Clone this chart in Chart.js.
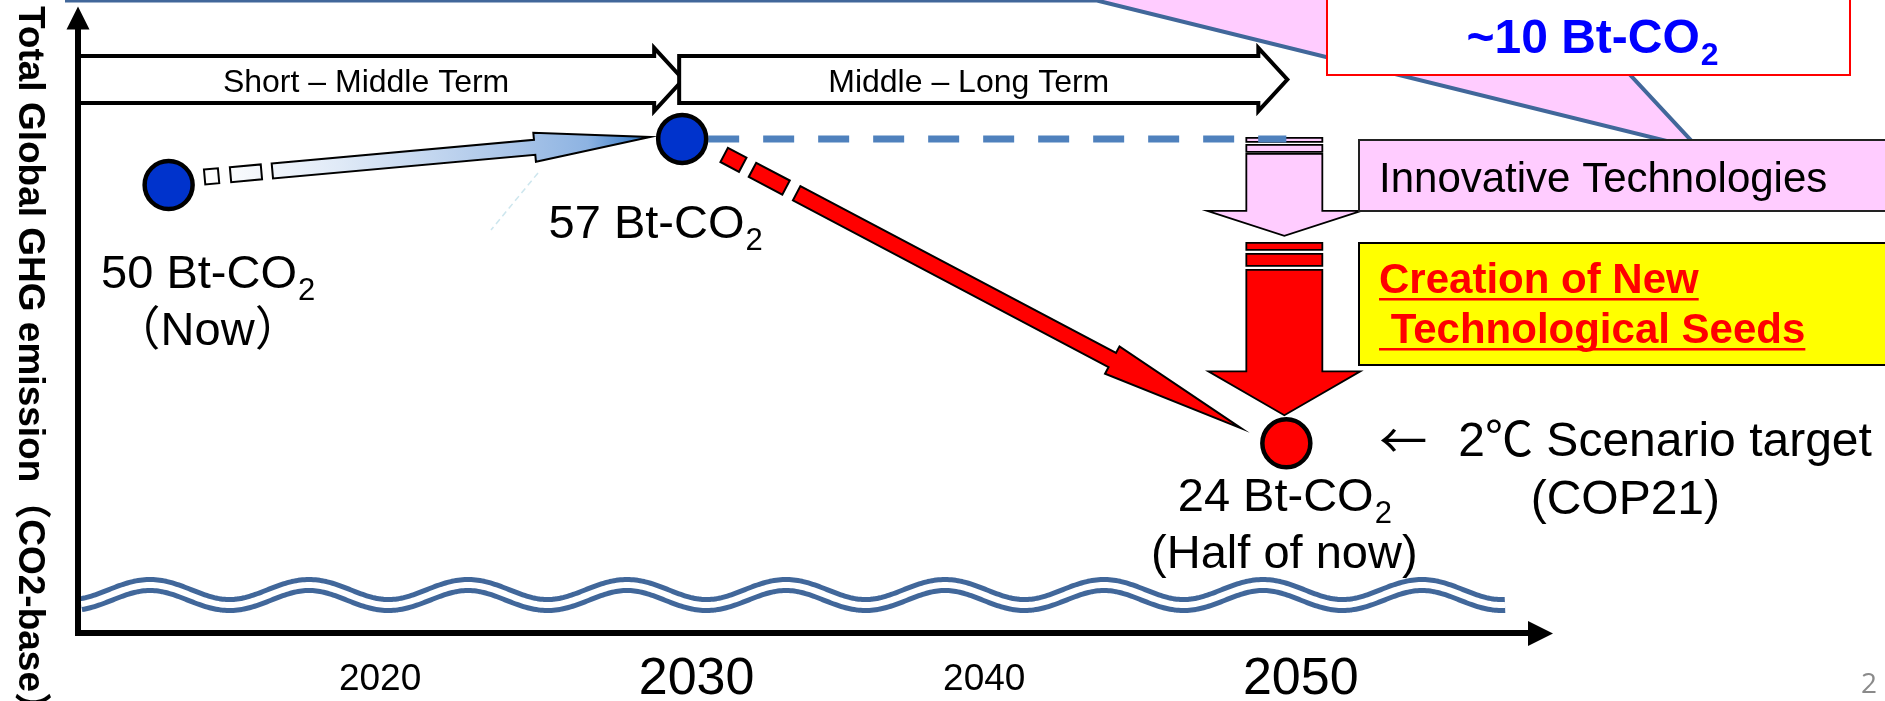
<!DOCTYPE html>
<html>
<head>
<meta charset="utf-8">
<title>Total Global GHG emission</title>
<script src="https://cdn.jsdelivr.net/npm/chart.js@4.4.1/dist/chart.umd.min.js"></script>
<style>
  html, body { margin: 0; padding: 0; background: #ffffff; overflow: hidden; }
  canvas { display: block; }
</style>
</head>
<body>
<canvas id="chart" width="1885" height="701"></canvas>
<script>
// ---- time axis ----
const tickYears = [2020, 2030, 2040, 2050];
const majorTickYears = [2030, 2050];

// ---- emission milestones (Bt-CO2) ----
const milestoneYears = [2013, 2030, 2050];
const milestoneValues = [50, 57, 24];
const milestoneNotes = ['（Now）', '', '(Half of now)'];
const milestoneFills = ['#0033CC', '#0033CC', '#FF0000'];

// ---- business-as-usual plateau after 2030 ----
const plateauYears = [2030, 2050];
const plateauValues = [57, 57];

// ---- term bands ----
const termLabels = ['Short – Middle Term', 'Middle – Long Term'];
const termStartYears = [2010, 2030];
const termEndYears = [2030, 2050];

// ---- callouts ----
const extraCut = 10;
const targetArrow = '←';
const targetNote = ['2℃ Scenario target', '(COP21)'];
const innovationLabel = 'Innovative Technologies';
const seedsLabel = ['Creation of New', ' Technological Seeds'];
const axisTitle = 'Total Global GHG emission（CO2-base）';
const pageNumber = '2';

const SANS = "'Liberation Sans', Arial, Helvetica, 'Noto Sans CJK JP', sans-serif";
const font = (size, bold) => (bold ? 'bold ' : '') + size + 'px ' + SANS;

// text followed by a subscript "2"
function drawChem(ctx, text, x, y, size, o) {
  const sub = Math.round(size * 0.66);
  ctx.font = font(size, o.bold);
  const w1 = ctx.measureText(text).width;
  ctx.font = font(sub, o.bold);
  const w2 = ctx.measureText('2').width;
  const left = o.align === 'center' ? x - (w1 + w2) / 2 : x;
  ctx.textAlign = 'left';
  ctx.textBaseline = 'alphabetic';
  ctx.fillStyle = o.color;
  ctx.font = font(size, o.bold);
  ctx.fillText(text, left, y);
  ctx.font = font(sub, o.bold);
  ctx.fillText('2', left + w1 + 1, y + size * 0.25);
}

// polygon given in (along, across) coordinates of an axis starting at (ox, oy)
function axisPoly(ctx, ox, oy, ux, uy, pts) {
  ctx.beginPath();
  pts.forEach(([s, t], i) => {
    const X = ox + ux * s - uy * t, Y = oy + uy * s + ux * t;
    if (i) ctx.lineTo(X, Y); else ctx.moveTo(X, Y);
  });
  ctx.closePath();
}

// slanted block arrow with a broken tail
function slantArrow(ctx, x0, y0, x1, y1, o) {
  const L = Math.hypot(x1 - x0, y1 - y0), ux = (x1 - x0) / L, uy = (y1 - y0) / L;
  ctx.lineWidth = o.lineWidth;
  ctx.strokeStyle = '#000';
  ctx.lineJoin = 'miter';
  ctx.fillStyle = o.fill;
  o.tail.forEach(([a, b]) => {
    axisPoly(ctx, x0, y0, ux, uy, [[a, -o.w], [b, -o.w], [b, o.w], [a, o.w]]);
    ctx.fill(); ctx.stroke();
  });
  const hb = L - o.headLen;
  axisPoly(ctx, x0, y0, ux, uy, [[o.shaftStart, -o.w], [hb, -o.w], [hb, -o.hw], [L, 0],
                                 [hb, o.hw], [hb, o.w], [o.shaftStart, o.w]]);
  ctx.fill(); ctx.stroke();
}

// vertical block arrow pointing down, with stripes above
function downArrow(ctx, cx, o) {
  ctx.lineWidth = 1.8;
  ctx.strokeStyle = '#000';
  ctx.fillStyle = o.fill;
  o.stripes.forEach(([t, b]) => {
    ctx.beginPath(); ctx.rect(cx - o.w, t, 2 * o.w, b - t); ctx.fill(); ctx.stroke();
  });
  ctx.beginPath();
  ctx.moveTo(cx - o.w, o.top); ctx.lineTo(cx + o.w, o.top); ctx.lineTo(cx + o.w, o.base);
  ctx.lineTo(cx + o.hw, o.base); ctx.lineTo(cx, o.tip); ctx.lineTo(cx - o.hw, o.base);
  ctx.lineTo(cx - o.w, o.base); ctx.closePath();
  ctx.fill(); ctx.stroke();
}

const decor = {
  id: 'decor',
  beforeDraw(chart) {
    const { ctx, chartArea: a } = chart;
    const X = v => chart.scales.x.getPixelForValue(v);
    ctx.save();
    ctx.fillStyle = '#fff';
    ctx.fillRect(0, 0, chart.width, chart.height);

    // axis-break wave
    const midY = a.bottom - 38;
    ctx.beginPath();
    for (let i = 0, x = a.left + 3; x <= 1506; i++, x += 2) {
      const y = midY - 10 * Math.cos(2 * Math.PI * (x - 150) / 159);
      if (i) ctx.lineTo(x, y); else ctx.moveTo(x, y);
    }
    ctx.lineCap = 'butt';
    ctx.lineJoin = 'round';
    ctx.strokeStyle = '#41679A'; ctx.lineWidth = 16; ctx.stroke();
    ctx.strokeStyle = '#ffffff'; ctx.lineWidth = 6; ctx.stroke();

    // pink callout with its pointer
    ctx.beginPath();
    ctx.moveTo(67, -40); ctx.lineTo(67, 0.5); ctx.lineTo(1097, 0.5); ctx.lineTo(1699, 149);
    ctx.lineTo(1561, 0.5); ctx.lineTo(1800, 0.5); ctx.lineTo(1800, -40); ctx.closePath();
    ctx.fillStyle = '#FFCCFF'; ctx.fill();
    ctx.strokeStyle = '#41679A'; ctx.lineWidth = 4; ctx.lineJoin = 'miter'; ctx.stroke();

    // term bands
    termLabels.forEach((lab, i) => {
      const x0 = i === 0 ? a.left : X(termStartYears[i]) - 3;
      const tip = X(termEndYears[i]) + 1;
      const hb = tip - 29;
      ctx.beginPath();
      ctx.moveTo(x0, 56); ctx.lineTo(hb, 56); ctx.lineTo(hb, 48); ctx.lineTo(tip, 79.5);
      ctx.lineTo(hb, 111); ctx.lineTo(hb, 103); ctx.lineTo(x0, 103); ctx.closePath();
      ctx.fillStyle = '#fff'; ctx.fill();
      ctx.strokeStyle = '#000'; ctx.lineWidth = 4; ctx.stroke();
      ctx.fillStyle = '#000';
      ctx.font = font(32, false);
      ctx.textAlign = 'center'; ctx.textBaseline = 'alphabetic';
      ctx.fillText(lab, (x0 + hb) / 2, 91.5);
    });
    ctx.restore();
  },

  beforeDatasetsDraw(chart) {
    const { ctx } = chart;
    const X = v => chart.scales.x.getPixelForValue(v);
    const Y = v => chart.scales.y.getPixelForValue(v);
    const P = milestoneYears.map((yr, i) => ({ x: X(yr), y: Y(milestoneValues[i]) }));
    ctx.save();

    // faint guide
    ctx.strokeStyle = '#cde6ee'; ctx.lineWidth = 1.5; ctx.setLineDash([6, 4]);
    ctx.beginPath(); ctx.moveTo(538, 173); ctx.lineTo(491, 230); ctx.stroke();
    ctx.setLineDash([]);

    // growth arrow: now -> 2030
    const b0 = { x: P[0].x + 36, y: P[0].y - 8 }, b1 = { x: P[1].x - 32, y: P[1].y - 2 };
    const g = ctx.createLinearGradient(b0.x, b0.y, b1.x, b1.y);
    g.addColorStop(0, '#ffffff');
    g.addColorStop(0.3, '#e0eaf7');
    g.addColorStop(0.7, '#a8c4e8');
    g.addColorStop(0.86, '#8db3e2');
    g.addColorStop(1, '#2a72c4');
    slantArrow(ctx, b0.x, b0.y, b1.x, b1.y, {
      fill: g, lineWidth: 2, w: 7.5, hw: 14.5, headLen: 116, shaftStart: 68,
      tail: [[0, 14], [26, 57]]
    });

    // reduction arrow: 2030 -> 2050
    const r0 = { x: P[1].x + 42, y: P[1].y + 16 }, r1 = { x: P[2].x - 45, y: P[2].y - 15 };
    slantArrow(ctx, r0.x, r0.y, r1.x, r1.y, {
      fill: '#FF0000', lineWidth: 2, w: 8, hw: 15.5, headLen: 146, shaftStart: 82,
      tail: [[0, 21], [32, 70]]
    });

    // vertical arrows at 2050
    const cx = X(2050) - 2, y57 = Y(plateauValues[1]), tipY = Y(milestoneValues[2]) - 28;
    downArrow(ctx, cx, {
      fill: '#FFCCFF', w: 38, hw: 77,
      stripes: [[y57 - 1, y57 + 3], [y57 + 6, y57 + 13]],
      top: y57 + 15, base: y57 + 72, tip: y57 + 97
    });
    downArrow(ctx, cx, {
      fill: '#FF0000', w: 38, hw: 76,
      stripes: [[y57 + 104, y57 + 111], [y57 + 115, y57 + 127]],
      top: y57 + 131, base: tipY - 44, tip: tipY
    });

    // "~10 Bt-CO2" box
    ctx.fillStyle = '#fff'; ctx.strokeStyle = '#FF0000'; ctx.lineWidth = 2;
    ctx.beginPath(); ctx.rect(1327, -10, 523, 85); ctx.fill(); ctx.stroke();
    drawChem(ctx, '~' + extraCut + ' Bt-CO', 1592, 53, 48, { bold: true, color: '#0000FF', align: 'center' });

    // innovative technologies box
    ctx.fillStyle = '#FFCCFF'; ctx.strokeStyle = '#222'; ctx.lineWidth = 2;
    ctx.beginPath(); ctx.rect(1359, 140, 540, 71); ctx.fill(); ctx.stroke();
    ctx.fillStyle = '#000'; ctx.font = font(42, false);
    ctx.textAlign = 'left'; ctx.textBaseline = 'alphabetic';
    ctx.fillText(innovationLabel, 1379, 192);

    // new technological seeds box
    ctx.fillStyle = '#FFFF00'; ctx.strokeStyle = '#000'; ctx.lineWidth = 2;
    ctx.beginPath(); ctx.rect(1359, 243, 540, 122); ctx.fill(); ctx.stroke();
    ctx.fillStyle = '#FF0000'; ctx.font = font(42, true);
    seedsLabel.forEach((t, i) => {
      const base = 293 + i * 50;
      ctx.fillText(t, 1379, base);
      const w = ctx.measureText(t).width;
      ctx.fillRect(1379, base + 5, w, 2.5);
    });
    ctx.restore();
  },

  afterDatasetsDraw(chart) {
    const { ctx } = chart;
    const X = v => chart.scales.x.getPixelForValue(v);
    const Y = v => chart.scales.y.getPixelForValue(v);
    const offs = [[39, 103], [-27, 99], [-2, 68]];
    ctx.save();
    milestoneYears.forEach((yr, i) => {
      const px = X(yr) + offs[i][0], base = Y(milestoneValues[i]) + offs[i][1];
      drawChem(ctx, milestoneValues[i] + ' Bt-CO', px, base, 47, { bold: false, color: '#000', align: 'center' });
      if (milestoneNotes[i]) {
        ctx.font = font(47, false); ctx.fillStyle = '#000';
        ctx.textAlign = 'center'; ctx.textBaseline = 'alphabetic';
        ctx.fillText(milestoneNotes[i], px, base + 57);
      }
    });
    const t = { x: X(2050), y: Y(milestoneValues[2]) };
    ctx.fillStyle = '#000'; ctx.textBaseline = 'alphabetic';
    ctx.textAlign = 'left';
    ctx.font = "48px 'Noto Sans CJK JP', 'Liberation Sans', sans-serif";
    ctx.fillText(targetArrow, t.x + 93, t.y + 15);
    ctx.font = font(48, false);
    ctx.fillText(targetNote[0], t.x + 172, t.y + 13);
    ctx.textAlign = 'center';
    ctx.fillText(targetNote[1], t.x + 339, t.y + 71);
    ctx.restore();
  },

  afterDraw(chart) {
    const { ctx, chartArea: a } = chart;
    ctx.save();
    ctx.fillStyle = '#000';
    // axis arrowheads
    ctx.beginPath();
    ctx.moveTo(a.left - 11.5, a.top + 1); ctx.lineTo(a.left, a.top - 22); ctx.lineTo(a.left + 11.5, a.top + 1);
    ctx.closePath(); ctx.fill();
    ctx.beginPath();
    ctx.moveTo(a.right, a.bottom - 12); ctx.lineTo(a.right + 25, a.bottom + 0.5); ctx.lineTo(a.right, a.bottom + 13);
    ctx.closePath(); ctx.fill();

    // vertical axis title, reading downwards
    ctx.translate(29, 6);
    ctx.rotate(Math.PI / 2);
    ctx.font = font(37, true);
    ctx.textAlign = 'left'; ctx.textBaseline = 'middle';
    ctx.fillText(axisTitle, 0, 0);
    ctx.restore();

    ctx.save();
    ctx.fillStyle = '#8a8a8a';
    ctx.font = "28px 'Open Sans', 'Liberation Sans', sans-serif";
    ctx.textAlign = 'center'; ctx.textBaseline = 'alphabetic';
    ctx.fillText(pageNumber, 1869, 693);
    ctx.restore();
  }
};

const chart = new Chart(document.getElementById('chart'), {
  type: 'scatter',
  data: {
    datasets: [
      {
        label: 'Milestones',
        data: milestoneYears.map((x, i) => ({ x, y: milestoneValues[i] })),
        showLine: false,
        pointRadius: 24,
        pointHoverRadius: 24,
        pointBorderWidth: 4.5,
        pointBackgroundColor: milestoneFills,
        pointBorderColor: '#000'
      },
      {
        label: 'Plateau',
        data: plateauYears.map((x, i) => ({ x, y: plateauValues[i] })),
        showLine: true,
        borderColor: '#4F81BD',
        borderWidth: 7,
        borderDash: [31, 24],
        borderDashOffset: 29,
        borderCapStyle: 'butt',
        pointRadius: 0
      }
    ]
  },
  options: {
    responsive: false,
    animation: false,
    devicePixelRatio: 1,
    events: [],
    layout: { padding: { left: 78, top: 25, right: 357, bottom: -25 } },
    plugins: { legend: { display: false }, tooltip: { enabled: false } },
    scales: {
      x: {
        type: 'linear',
        min: 2010,
        max: 2058,
        grid: { display: false, drawTicks: false },
        border: { display: true, color: '#000', width: 6 },
        afterBuildTicks: s => { s.ticks = tickYears.map(v => ({ value: v })); },
        ticks: {
          autoSkip: false,
          maxRotation: 0,
          padding: 25,
          color: '#000',
          // the larger decade labels sit a little to the right of their tick
          callback: v => (majorTickYears.includes(v) ? '  ' : '') + String(v),
          font: c => ({
            family: SANS,
            size: majorTickYears.includes(c.tick && c.tick.value) ? 52 : 37,
            lineHeight: '43px'
          })
        }
      },
      y: {
        type: 'logarithmic',
        min: 14,
        max: 78,
        grid: { display: false, drawTicks: false },
        border: { display: true, color: '#000', width: 6 },
        ticks: { display: false }
      }
    }
  },
  plugins: [decor]
});
</script>
</body>
</html>
